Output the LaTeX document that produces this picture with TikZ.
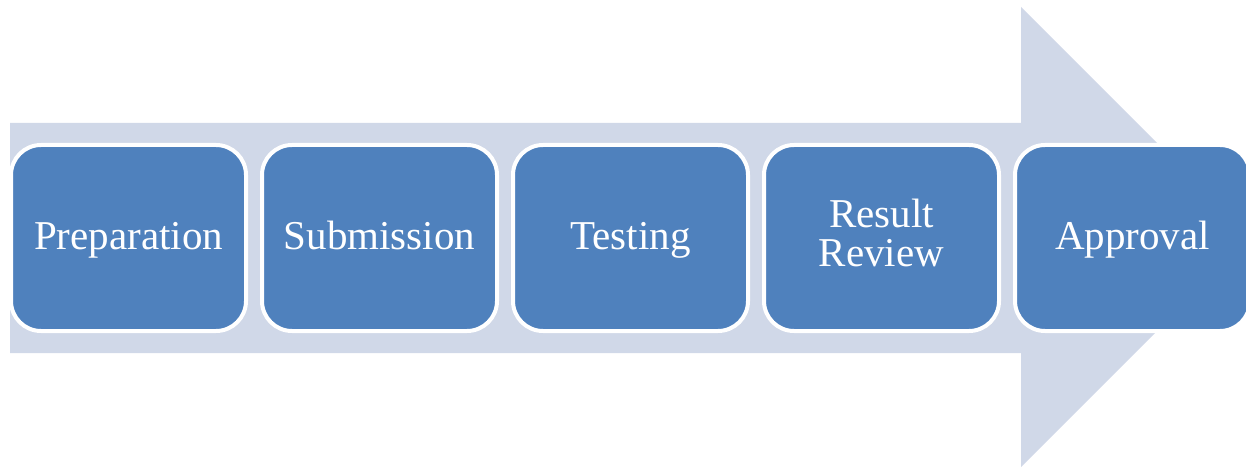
\documentclass[tikz,border=0pt]{standalone}
\usepackage{fontspec}
\setmainfont{Liberation Serif}
\usepackage{tikz}
\usetikzlibrary{positioning}
\definecolor{stepblue}{HTML}{4F81BD}
\definecolor{arrowgrey}{HTML}{D0D8E8}

\begin{document}
\begin{tikzpicture}[x=0.5pt, y=0.5pt,
  stepbox/.style={draw=white, line width=2pt, fill=stepblue, rounded corners=15pt,
    minimum width=117.5pt, minimum height=93pt, align=center, text=white,
    text height=15pt, text depth=3pt,
    font=\fontsize{20.5}{19.5}\selectfont},
  node distance=6pt]
  \useasboundingbox (0,0) rectangle (1246,466);
  % background arrow
  \fill[arrowgrey] (10,113) -- (10,343) -- (1021,343) -- (1021,459)
    -- (1251,229) -- (1021,-1) -- (1021,113) -- cycle;
  % steps
  \node[stepbox] (prep) at (128.5,228) {Preparation};
  \node[stepbox, right=of prep] (sub) {Submission};
  \node[stepbox, right=of sub] (test) {Testing};
  \node[stepbox, right=of test, text height=32pt] (review) {Result\\Review};
  \node[stepbox, right=of review] (appr) {Approval};
\end{tikzpicture}
\end{document}
